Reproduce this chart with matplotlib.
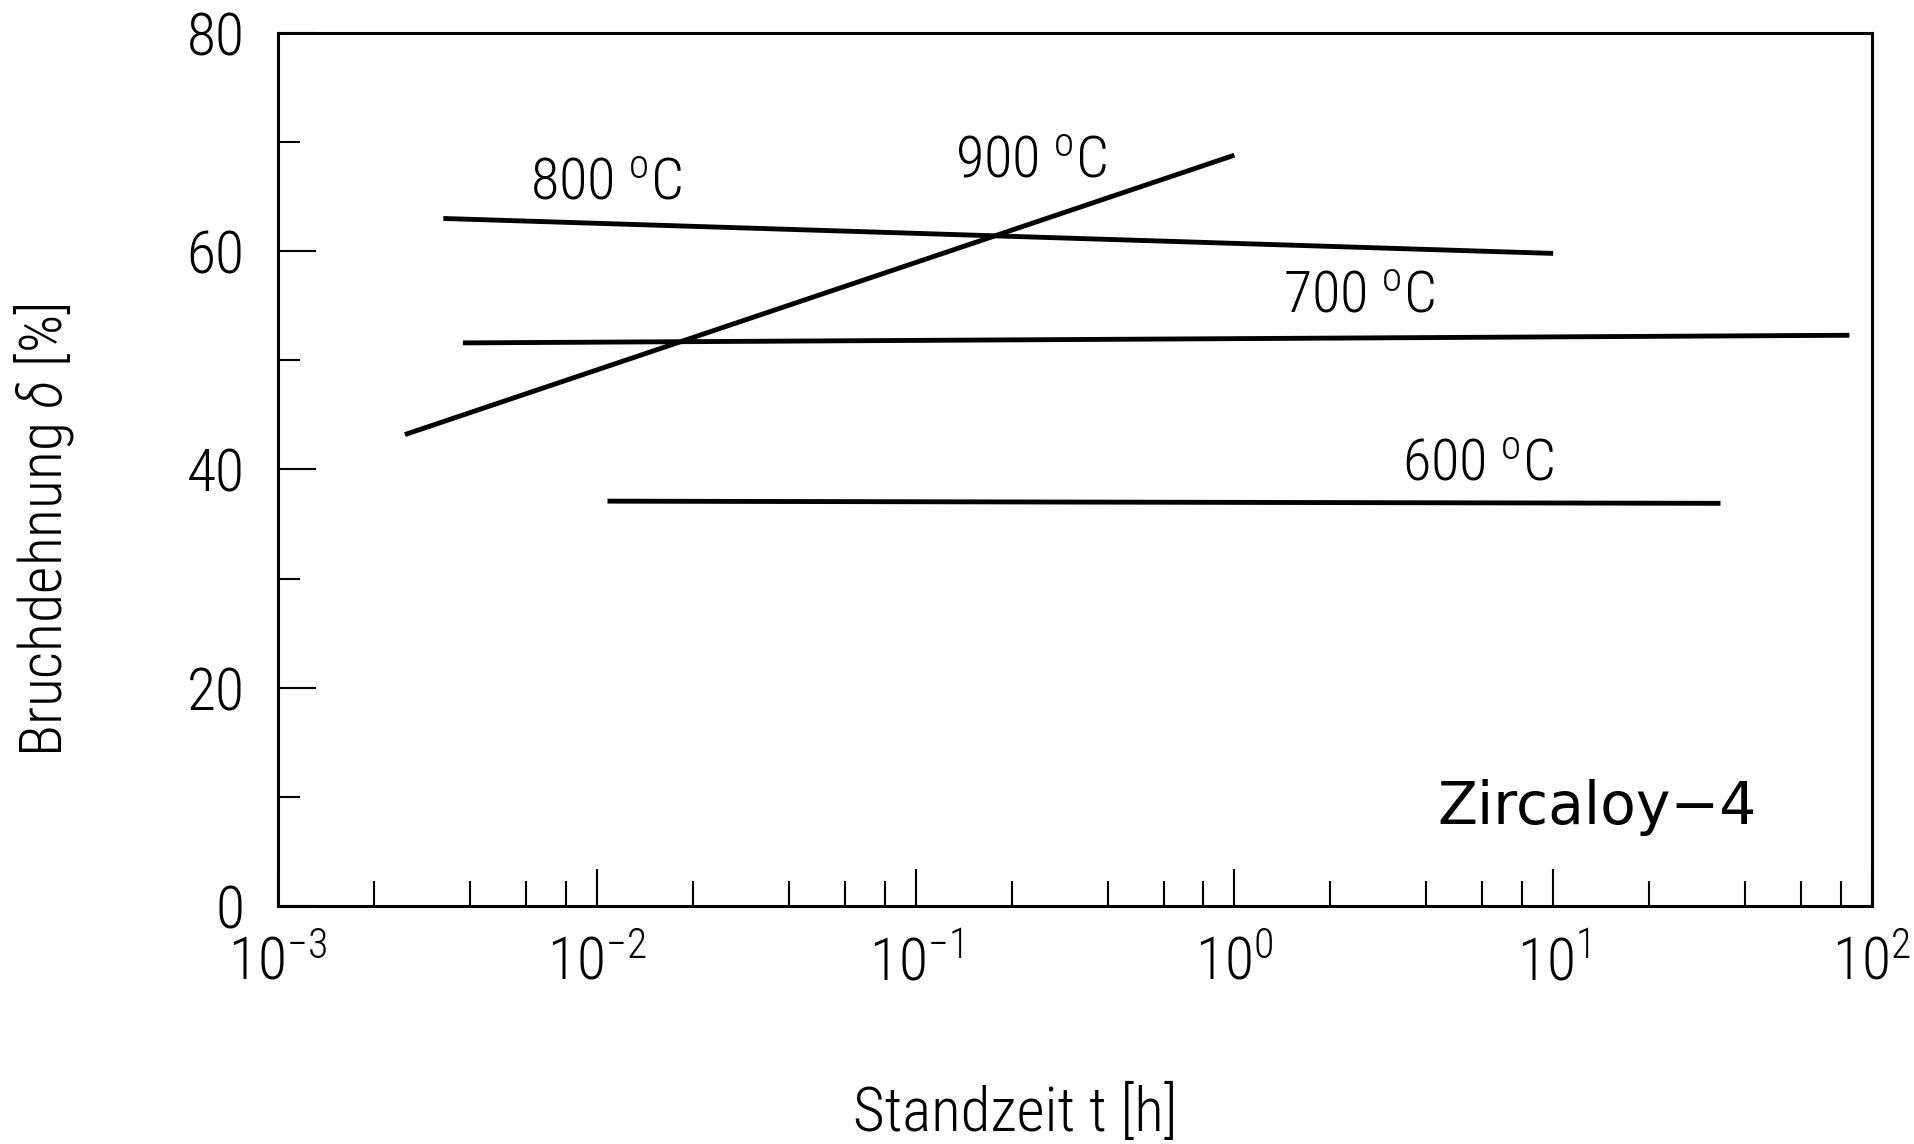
import numpy as np
import matplotlib
matplotlib.use("Agg")
import matplotlib.pyplot as plt
from matplotlib import font_manager as fm
from matplotlib.ticker import LogLocator, MultipleLocator, NullFormatter

# Schrift: moeglichst schmale, duenne Schrift suchen
vorhanden = {f.name for f in fm.fontManager.ttflist}
SCHRIFT = "DejaVu Sans"
for kandidat in ["Liberation Sans Narrow", "Roboto Condensed", "Open Sans Condensed",
                 "Roboto", "Lato", "Open Sans"]:
    if kandidat in vorhanden:
        SCHRIFT = kandidat
        break
leicht = any(f.name == SCHRIFT and f.weight in (300, "light") for f in fm.fontManager.ttflist)
GEWICHT = "light" if leicht else "normal"

plt.rcParams['font.family'] = [SCHRIFT, 'DejaVu Sans']
plt.rcParams['font.weight'] = GEWICHT
plt.rcParams['mathtext.fontset'] = 'custom'
plt.rcParams['mathtext.rm'] = SCHRIFT + ":" + GEWICHT
plt.rcParams['mathtext.it'] = SCHRIFT + ":italic:" + GEWICHT

# Daten (Standzeit [h], Bruchdehnung [%])
t_800 = [3.3e-3, 10.0]
d_800 = [63.0, 59.8]
t_900 = [2.5e-3, 1.0]
d_900 = [43.2, 68.8]
t_700 = [3.8e-3, 85.0]
d_700 = [51.6, 52.3]
t_600 = [1.08e-2, 33.5]
d_600 = [37.1, 36.9]

etiketten = ["800", "900", "700", "600"]
etikett_t = [1.07e-2, 0.23, 2.46, 5.8]
etikett_d = [66.2, 68.2, 55.8, 40.4]

fig = plt.figure(figsize=(19.15, 11.44), dpi=100)
ax = fig.add_axes([0.1452, 0.208, 0.8323, 0.7632])

for t, d in [(t_800, d_800), (t_900, d_900), (t_700, d_700), (t_600, d_600)]:
    ax.plot(t, d, color="black", lw=3.5, solid_capstyle="butt")

for name, x, y in zip(etiketten, etikett_t, etikett_d):
    ax.text(x, y, name + r" $^{\mathrm{o}}$C", fontsize=42, ha="center", va="center")

ax.text(0.8276, 0.113, "Zircaloy\u22124", transform=ax.transAxes, fontsize=42,
        family="DejaVu Sans", weight="normal", ha="center", va="center")

ax.set_xscale("log")
ax.set_xlim(1e-3, 1e2)
ax.set_ylim(0, 80)
ax.xaxis.set_major_locator(LogLocator(base=10, numticks=10))
ax.xaxis.set_minor_locator(LogLocator(base=10, subs=[2, 4, 6, 8], numticks=20))
ax.xaxis.set_minor_formatter(NullFormatter())
ax.yaxis.set_major_locator(MultipleLocator(20))
ax.yaxis.set_minor_locator(MultipleLocator(10))

ax.tick_params(which="both", direction="in", top=False, right=False, width=1.5)
ax.tick_params(which="major", length=27, labelsize=43)
ax.tick_params(axis="x", which="major", pad=21)
ax.tick_params(axis="y", which="major", pad=24)
ax.tick_params(axis="x", which="minor", length=18)
ax.tick_params(axis="y", which="minor", length=16)
for s in ax.spines.values():
    s.set_linewidth(2.2)

fig.text(0.530, 0.027, "Standzeit t [h]", fontsize=44, ha="center", va="center")
fig.text(0.0225, 0.536, r"Bruchdehnung $\delta$ [%]", fontsize=43, rotation=90,
         ha="center", va="center")

fig.savefig("out.png", dpi=100)
